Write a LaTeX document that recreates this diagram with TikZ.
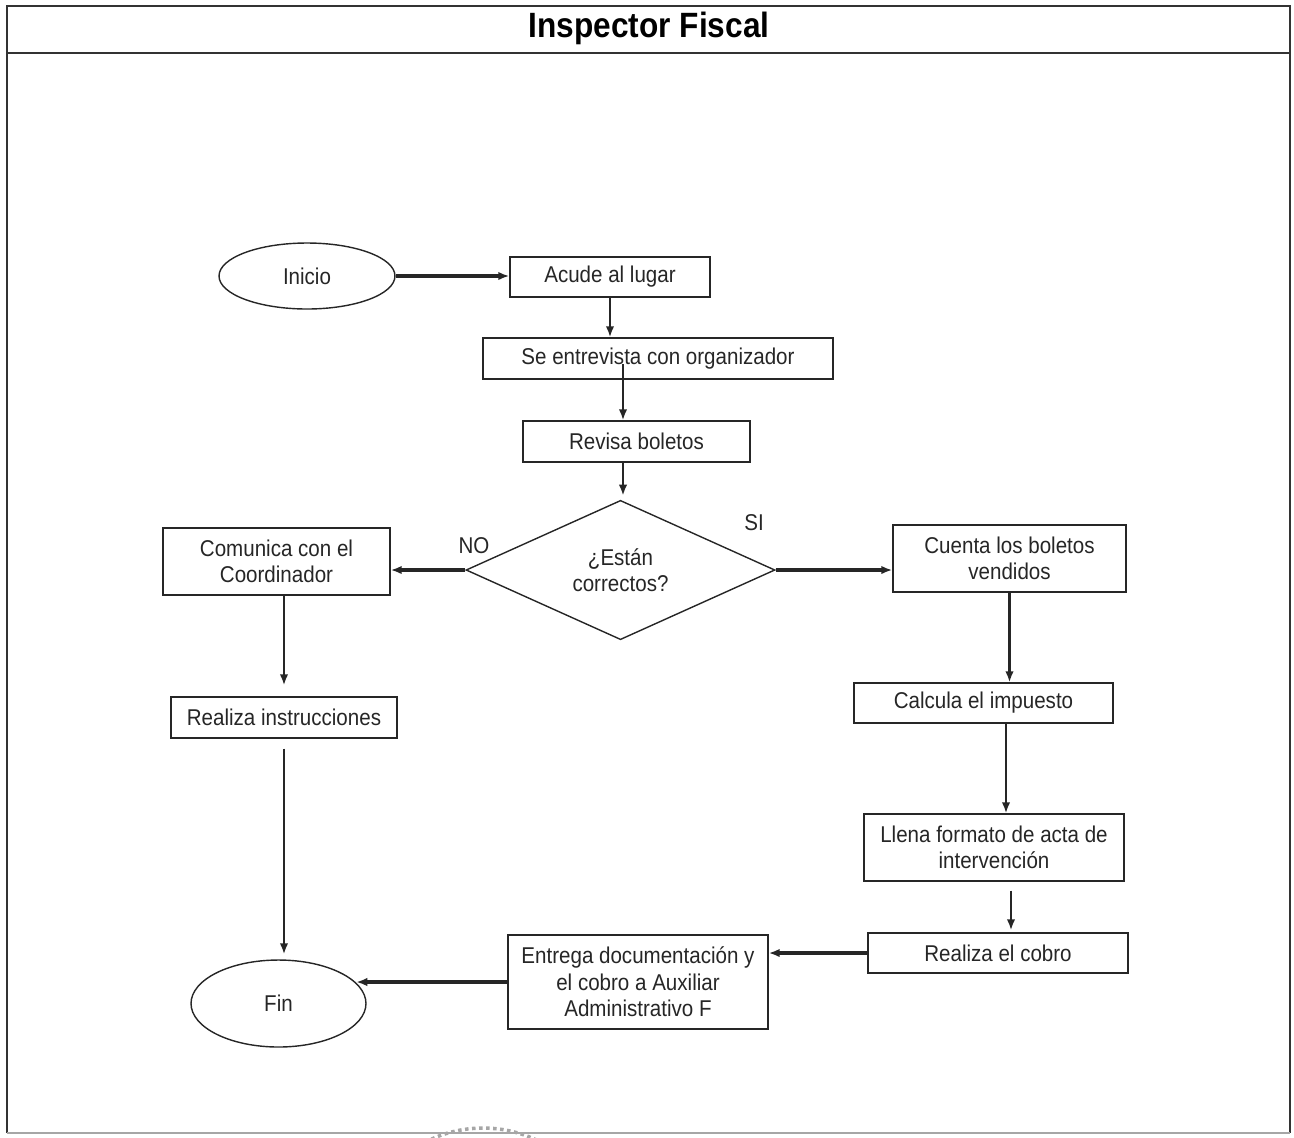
\documentclass[tikz,border=0pt]{standalone}
\usepackage{fontspec}
\setmainfont{Liberation Sans}[FakeStretch=0.9]
\usetikzlibrary{shapes.geometric,arrows.meta,calc}

\tikzset{
  inkcol/.style={draw=black!85, text=black!85},
  stepbox/.style={inkcol, rectangle, line width=0.8pt, inner sep=2pt, align=center,
                  font=\fontsize{13}{15}\selectfont},
  terminal/.style={inkcol, ellipse, line width=0.8pt, inner sep=0pt,
                   font=\fontsize{13}{15}\selectfont},
  decision/.style={inkcol, diamond, line width=0.8pt, inner sep=0pt, align=center,
                   font=\fontsize{13}{15}\selectfont},
  flow/.style={draw=black!85, line width=1.2pt, -{Latex[length=2.2mm,width=1.7mm]}},
  heavyflow/.style={flow, line width=1.8pt},
  branchlabel/.style={text=black!85, font=\fontsize{13}{15}\selectfont, inner sep=0pt},
}

\begin{document}
\begin{tikzpicture}[x=0.02cm, y=-0.02cm]
  \useasboundingbox (0,0) rectangle (1294,1137);

  % page frame and title band
  \draw[black!80, line width=1pt] (7,1133) -- (7,6) -- (1290,6) -- (1290,1133);
  \draw[black!35, line width=0.8pt] (7,1133) -- (1290,1133);
  \draw[black!80, line width=1pt] (7,53) -- (1290,53);
  \node[font=\bfseries\fontsize{20}{24}\selectfont, text=black] (title) at (649,28) {Inspector Fiscal};

  % stamp edge at the foot of the page
  \begin{scope}
    \clip (0,0) rectangle (1294,1137);
    \draw[black!35, line width=2pt, dotted] (483,1253) circle (2.5cm);
  \end{scope}

  % steps
  \node[terminal, minimum width=3.52cm, minimum height=1.32cm] (inicio) at (307,276) {Inicio};
  \node[stepbox, minimum width=4.0cm, minimum height=0.8cm] (acude) at (610,277) {Acude al lugar};
  \node[stepbox, minimum width=7.0cm, minimum height=0.82cm] (entrev) at (658,358.5) {Se entrevista con organizador};
  \node[stepbox, minimum width=4.54cm, minimum height=0.82cm] (revisa) at (636.5,441.5) {Revisa boletos};
  \node[decision, minimum width=6.18cm, minimum height=2.64cm] (dec) at (620.5,570) {¿Están\\correctos?};
  \node[stepbox, minimum width=4.54cm, minimum height=1.34cm] (comunica) at (276.5,561.5) {Comunica con el\\Coordinador};
  \node[stepbox, minimum width=4.66cm, minimum height=1.34cm] (cuenta) at (1009.5,558.5) {Cuenta los boletos\\vendidos};
  \node[stepbox, minimum width=4.52cm, minimum height=0.82cm] (instr) at (284,717.5) {Realiza instrucciones};
  \node[stepbox, minimum width=5.18cm, minimum height=0.8cm] (calcula) at (983.5,703) {Calcula el impuesto};
  \node[stepbox, minimum width=5.2cm, minimum height=1.34cm] (llena) at (994,847.5) {Llena formato de acta de\\intervención};
  \node[stepbox, minimum width=5.2cm, minimum height=0.8cm] (cobro) at (998,953) {Realiza el cobro};
  \node[stepbox, minimum width=5.2cm, minimum height=1.88cm] (entrega) at (638,982) {Entrega documentación y\\el cobro a Auxiliar\\Administrativo F};
  \node[terminal, minimum width=3.5cm, minimum height=1.74cm] (fin) at (278.5,1003.5) {Fin};

  % branch labels
  \node[branchlabel] (nolbl) at (474,546) {NO};
  \node[branchlabel] (silbl) at (754,523) {SI};

  % helper points for off-centre connectors
  \coordinate (e2r) at ([xshift=-0.27cm]revisa.north);
  \coordinate (c2l) at ([xshift=0.45cm]calcula.south);
  \coordinate (l2c) at ([xshift=0.34cm,yshift=-0.18cm]llena.south);

  % connectors
  \draw[heavyflow] (inicio.east) -- (inicio.east -| acude.west);
  \draw[flow] (acude.south) -- (acude.south |- entrev.north);
  \draw[flow] ([yshift=-0.11cm]e2r |- entrev.center) -- (e2r);
  \draw[flow] (e2r |- revisa.south) -- ([yshift=0.08cm]e2r |- dec.north);
  \draw[heavyflow] (dec.west) -- (comunica.east |- dec.west);
  \draw[heavyflow] (dec.east) -- (cuenta.west |- dec.east);
  \draw[flow] (comunica.south -| instr.north) -- ([yshift=0.22cm]instr.north);
  \draw[flow] ([yshift=-0.2cm]instr.south) -- ([yshift=0.1cm]instr.south |- fin.north);
  \draw[flow] (cuenta.south) -- (cuenta.south |- calcula.north);
  \draw[flow] (c2l) -- (c2l |- llena.north);
  \draw[flow] (l2c) -- ([yshift=0.04cm]l2c |- cobro.north);
  \draw[heavyflow] (cobro.west) -- (entrega.east |- cobro.west);
  \draw[heavyflow] (entrega.west) -- (entrega.west -| fin.15);
\end{tikzpicture}
\end{document}
